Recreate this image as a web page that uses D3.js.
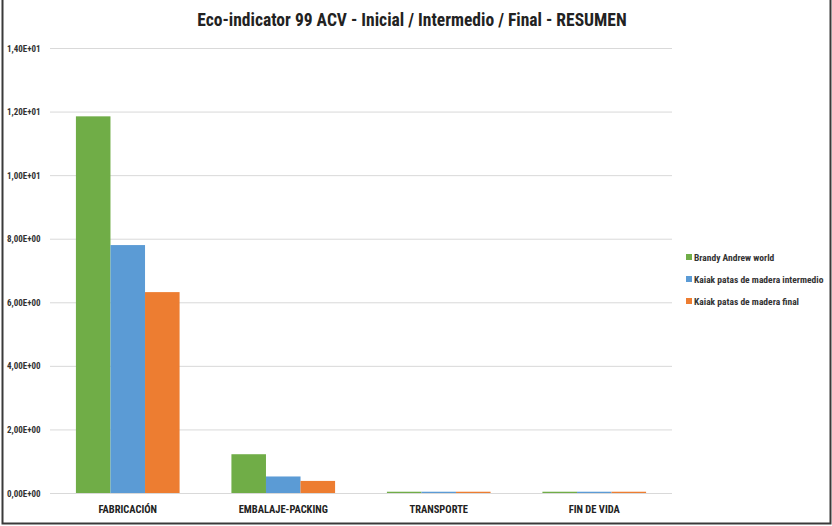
<!DOCTYPE html>
<html><head><meta charset="utf-8">
<script src="https://cdn.jsdelivr.net/npm/d3@7"></script>
<style>
body{margin:0;background:#fff;}
svg{display:block;font-family:"Liberation Sans Narrow","Roboto Condensed","Open Sans",sans-serif;}
</style></head>
<body><svg id="c" width="832" height="526"></svg>
<script>
const title = "Eco-indicator 99 ACV - Inicial / Intermedio / Final - RESUMEN";
const categories = ["FABRICACIÓN", "EMBALAJE-PACKING", "TRANSPORTE", "FIN DE VIDA"];
const seriesNames = ["Brandy Andrew world", "Kaiak patas de madera intermedio", "Kaiak patas de madera final"];
const seriesColors = ["#70ad47", "#5b9bd5", "#ed7d31"];
const brandy = [11.85, 1.22, 0.04, 0.04];
const kaiakIntermedio = [7.80, 0.52, 0.04, 0.04];
const kaiakFinal = [6.32, 0.38, 0.04, 0.04];
const yTicks = [0, 2, 4, 6, 8, 10, 12, 14];
const yTickLabels = ["0,00E+00","2,00E+00","4,00E+00","6,00E+00","8,00E+00","1,00E+01","1,20E+01","1,40E+01"];

(function(){
const series = [brandy, kaiakIntermedio, kaiakFinal];
const svg = d3.select("#c");
const pLeft = 50, pRight = 672, pTop = 48, pBottom = 493;

// frame
svg.append("path").attr("d", "M2.5,0 V523.5 H830.5 V0").attr("fill","none").attr("stroke","#3a3a3a").attr("stroke-width",2);

svg.append("text").attr("x", 412).attr("y", 26).attr("text-anchor","middle")
  .attr("font-size", 17.5).attr("font-weight","bold").attr("fill","#222").text(title);

const y = d3.scaleLinear().domain([0,14]).range([pBottom, pTop]);
const x = d3.scaleBand().domain(categories).range([pLeft, pRight]).padding(0);
const band = x.bandwidth();
// Excel gap width 150%: bar width = band/4.5
const barW = band/4.5;
const xs = d3.scaleBand().domain(d3.range(series.length)).range([0, barW*3]).padding(0);

// gridlines
svg.append("g").selectAll("line").data(yTicks).join("line")
  .attr("x1", pLeft).attr("x2", pRight)
  .attr("y1", d=>y(d)+0.5).attr("y2", d=>y(d)+0.5)
  .attr("stroke","#d9d9d9").attr("stroke-width",1);

// y labels
svg.append("g").selectAll("text").data(yTicks).join("text")
  .attr("x", 7).attr("y", d=>y(d)+3.5)
  .attr("font-size", 9).attr("font-weight","bold").attr("fill","#333")
  .text((d,i)=>yTickLabels[i]);

// bars
const g = svg.append("g");
series.forEach((vals, si) => {
  g.selectAll(null).data(vals).join("rect")
    .attr("x", (d,i)=> x(categories[i]) + barW*0.75 + xs(si))
    .attr("width", xs.bandwidth())
    .attr("y", d=>y(d))
    .attr("height", d=>pBottom - y(d))
    .attr("fill", seriesColors[si]);
});

// x labels
svg.append("g").selectAll("text").data(categories).join("text")
  .attr("x", d=>x(d)+band/2).attr("y", 513).attr("text-anchor","middle")
  .attr("font-size", 10.5).attr("font-weight","bold").attr("fill","#222").text(d=>d);

// legend
const lg = svg.append("g");
seriesNames.forEach((n,i)=>{
  const ly = 258 + i*22;
  lg.append("rect").attr("x",686).attr("y",ly-4).attr("width",6).attr("height",6).attr("fill",seriesColors[i]);
  lg.append("text").attr("x",694).attr("y",ly+3).attr("font-size",9.5).attr("font-weight","bold").attr("fill","#333").text(n);
});
})();
</script></body></html>
